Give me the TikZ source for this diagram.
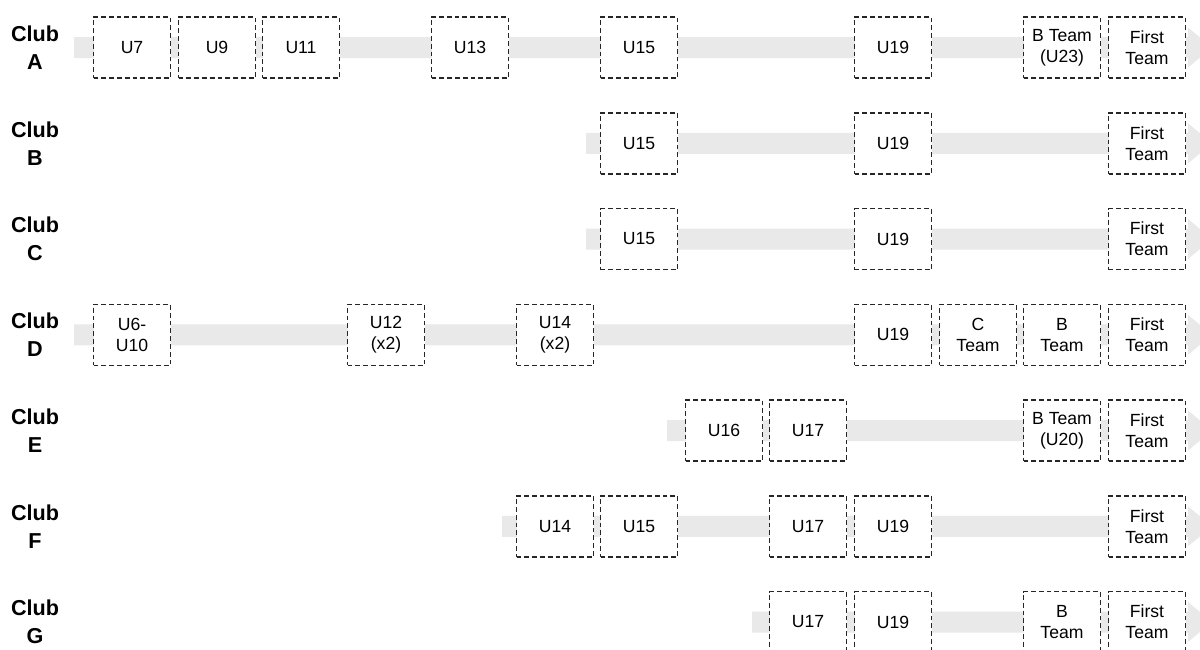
\documentclass[tikz,border=0pt]{standalone}
\usepackage{fontspec}
\setmainfont{Liberation Sans}
\definecolor{barc}{HTML}{E9E9E9}
\begin{document}
\begin{tikzpicture}[x=0.5pt,y=-0.5pt,
  stage/.style={draw=black!85, line width=0.8pt, dash pattern=on 2.4pt off 1.5pt, fill=white,
    minimum width=38.5pt, minimum height=30.5pt, inner sep=0pt, align=center,
    font=\fontsize{8.8}{10.5}\selectfont},
  club/.style={align=center, font=\fontsize{10.8}{14}\selectfont\bfseries},
  bar/.style={fill=barc, draw=none}]
\useasboundingbox (0,0) rectangle (1200,649);
\fill[white] (0,0) rectangle (1200,649);
% bars: start coordinate and row centre
\newcommand{\clubbar}[3]{%
  \coordinate (#1s) at (#2,#3);
  \coordinate (#1e) at (1212,#3);
  \fill[bar] ([yshift=-5.25pt]#1s) -- ([xshift=-12pt,yshift=-5.25pt]#1e) -- ([xshift=-12pt,yshift=-10pt]#1e) -- (#1e) -- ([xshift=-12pt,yshift=10pt]#1e) -- ([xshift=-12pt,yshift=5.25pt]#1e) -- ([yshift=5.25pt]#1s) -- cycle;}
\clubbar{A}{74}{47.5}
\clubbar{B}{586}{143.3}
\clubbar{C}{586}{239}
\clubbar{D}{74}{334.8}
\clubbar{E}{667}{430.5}
\clubbar{F}{502}{526.3}
\clubbar{G}{752}{622}
% club labels
\node[club] (lA) at (35,47.5) {Club\\A};
\node[club] (lB) at (35,143.3) {Club\\B};
\node[club] (lC) at (35,239) {Club\\C};
\node[club] (lD) at (35,334.8) {Club\\D};
\node[club] (lE) at (35,430.5) {Club\\E};
\node[club] (lF) at (35,526.3) {Club\\F};
\node[club] (lG) at (35,622) {Club\\G};
% Club A
\node[stage] (a1) at (132,47.5) {U7};
\node[stage] (a2) at (217,47.5) {U9};
\node[stage] (a3) at (301,47.5) {U11};
\node[stage] (a4) at (470,47.5) {U13};
\node[stage] (a5) at (639,47.5) {U15};
\node[stage] (a6) at (893,47.5) {U19};
\node[stage] (a7) at (1062,47.5) {B Team\\(U23)};
\node[stage] (a8) at (1147,47.5) {First\\Team};
% Club B
\node[stage] (b1) at (639,143.3) {U15};
\node[stage] (b2) at (893,143.3) {U19};
\node[stage] (b3) at (1147,143.3) {First\\Team};
% Club C
\node[stage] (c1) at (639,239) {U15};
\node[stage] (c2) at (893,239) {U19};
\node[stage] (c3) at (1147,239) {First\\Team};
% Club D
\node[stage] (d1) at (132,334.8) {U6-\\U10};
\node[stage] (d2) at (386,334.8) {U12\\(x2)};
\node[stage] (d3) at (555,334.8) {U14\\(x2)};
\node[stage] (d4) at (893,334.8) {U19};
\node[stage] (d5) at (978,334.8) {C\\Team};
\node[stage] (d6) at (1062,334.8) {B\\Team};
\node[stage] (d7) at (1147,334.8) {First\\Team};
% Club E
\node[stage] (e1) at (724,430.5) {U16};
\node[stage] (e2) at (808,430.5) {U17};
\node[stage] (e3) at (1062,430.5) {B Team\\(U20)};
\node[stage] (e4) at (1147,430.5) {First\\Team};
% Club F
\node[stage] (f1) at (555,526.3) {U14};
\node[stage] (f2) at (639,526.3) {U15};
\node[stage] (f3) at (808,526.3) {U17};
\node[stage] (f4) at (893,526.3) {U19};
\node[stage] (f5) at (1147,526.3) {First\\Team};
% Club G
\node[stage] (g1) at (808,622) {U17};
\node[stage] (g2) at (893,622) {U19};
\node[stage] (g3) at (1062,622) {B\\Team};
\node[stage] (g4) at (1147,622) {First\\Team};
\end{tikzpicture}
\end{document}
